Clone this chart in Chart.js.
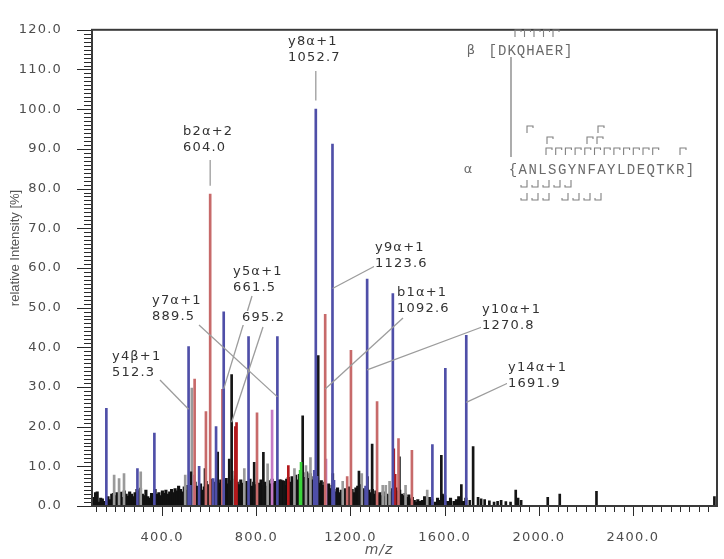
<!DOCTYPE html>
<html>
<head>
<meta charset="utf-8">
<script src="https://cdn.jsdelivr.net/npm/chart.js@4.4.1/dist/chart.umd.min.js"></script>
<style>
html, body { margin: 0; padding: 0; background: #fff; }
</style>
</head>
<body>
<canvas id="spec" width="724" height="559"></canvas>
<script>
// peaks: [m/z, relative intensity %]
const bluePeaks = [
  [163, 24.6], [295, 9.4], [367, 18.4], [512.3, 40.2], [520, 5.2], [557, 10.0], [617, 6.9], [629, 20.0],
  [661.5, 48.9], [767, 42.7], [889.5, 42.7], [1046, 9.0], [1052.7, 100.0], [1058, 7.5], [1123.6, 91.2],
  [1130, 6.5], [1264, 5.0], [1270.8, 57.2], [1380, 53.5], [1548, 15.5], [1603, 34.7], [1691.9, 43.0]
];
const redPeaks = [
  [538, 32.0], [586, 23.8], [604, 78.6], [656, 29.4], [803, 23.5], [1092.6, 48.3], [1186, 7.4],
  [1202, 39.2], [1313, 26.3], [1404, 17.0], [1461, 14.0]
];
const darkRedPeaks = [[711, 20.0], [716, 21.0], [936, 10.2], [1384, 14.4], [1390, 8.0]];
const magentaPeaks = [[536, 7.8], [867, 24.2], [1096, 11.8]];
const greenPeaks = [[986, 9.0], [990, 11.0]];
const grayPeaks = [
  [196, 7.8], [217, 6.9], [238, 8.2], [309, 8.6], [498, 7.8], [526, 29.7], [699, 8.8], [749, 9.4],
  [848, 10.6], [962, 9.4], [1011, 10.2], [1030, 12.2], [1167, 6.2], [1248, 8.2], [1337, 5.2],
  [1350, 5.2], [1366, 6.2], [1434, 5.2], [1526, 4.0], [1697, 1.4]
];
const blackPeaks = [
  [522, 8.6], [582, 9.4], [636, 13.6], [685, 11.8], [695.2, 33.1], [791, 11.0], [830, 13.5], [905, 6.6],
  [919, 6.2], [997, 22.7], [1063, 37.9], [1125, 8.2], [1236, 8.8], [1272, 7.4], [1292, 15.6], [1408, 12.4],
  [1586, 12.8], [1671, 5.4], [1721, 15.0], [1742, 2.2], [1755, 1.8], [1770, 1.6], [1790, 1.3], [1810, 1.0],
  [1825, 1.2], [1840, 1.4], [1860, 1.1], [1880, 1.0], [1902, 4.0], [1912, 2.0], [1925, 1.4], [2038, 2.2],
  [2089, 3.0], [2245, 3.7], [2746, 2.4]
];
// low-level background peaks
const noisePeaks = [
  [104, 1.2], [110, 2.2], [117, 3.4], [124, 3.6], [131, 1.0], [139, 2.0], [146, 1.8], [154, 1.2],
  [170, 2.4], [178, 1.6], [186, 3.0], [193, 3.2], [201, 2.6], [208, 3.4], [216, 2.8], [224, 3.5],
  [231, 2.2], [239, 3.8], [247, 3.0], [255, 2.5], [262, 3.6], [270, 3.0], [278, 2.4], [285, 3.4],
  [293, 4.2], [301, 3.8], [308, 4.5], [316, 3.0], [324, 2.6], [331, 4.0], [339, 2.4], [347, 2.0],
  [355, 3.2], [362, 2.8], [370, 4.2], [378, 3.0], [386, 3.4], [393, 2.6], [401, 3.8], [409, 3.2],
  [416, 4.0], [424, 3.0], [432, 3.6], [440, 4.2], [447, 3.4], [455, 4.4], [463, 3.8], [470, 5.0],
  [478, 4.2], [486, 3.6], [494, 4.8], [501, 4.0], [509, 5.2], [517, 4.4], [525, 5.4], [532, 4.6],
  [540, 6.0], [548, 5.0], [556, 4.4], [563, 5.6], [571, 4.0], [579, 4.8], [587, 6.2], [594, 5.4],
  [602, 4.6], [610, 6.8], [618, 5.2], [625, 6.0], [633, 7.4], [641, 5.8], [649, 6.6], [656, 5.0],
  [664, 6.2], [672, 7.0], [680, 5.6], [688, 6.4], [696, 5.2], [703, 6.8], [711, 7.6], [719, 6.0],
  [727, 5.4], [734, 6.6], [742, 5.8], [750, 4.8], [758, 6.2], [765, 5.6], [773, 6.8], [781, 5.0],
  [789, 6.0], [797, 5.4], [804, 4.6], [812, 5.8], [820, 6.6], [828, 5.2], [836, 6.0], [843, 5.0],
  [851, 6.4], [859, 5.6], [867, 6.8], [874, 5.8], [882, 6.2], [890, 5.4], [898, 6.6], [905, 5.8],
  [913, 6.4], [921, 5.2], [929, 6.8], [936, 7.2], [944, 6.0], [952, 7.4], [960, 6.4], [967, 7.8],
  [975, 6.6], [983, 8.0], [991, 7.0], [998, 8.4], [1006, 7.2], [1014, 8.6], [1022, 7.0], [1029, 8.2],
  [1037, 6.6], [1045, 7.4], [1053, 6.2], [1060, 7.0], [1068, 5.8], [1076, 6.4], [1083, 5.2], [1091, 6.0],
  [1099, 4.8], [1107, 5.6], [1114, 4.4], [1122, 5.2], [1130, 4.2], [1138, 3.6], [1145, 4.6], [1153, 3.4],
  [1161, 4.0], [1169, 3.2], [1176, 4.4], [1184, 3.6], [1192, 4.8], [1200, 3.8], [1207, 4.2], [1215, 3.4],
  [1223, 4.6], [1231, 5.0], [1238, 4.0], [1246, 5.4], [1254, 4.4], [1262, 3.8], [1269, 4.6], [1277, 4.0],
  [1285, 3.4], [1293, 4.2], [1300, 3.0], [1308, 3.8], [1316, 2.8], [1324, 3.4], [1331, 2.6], [1339, 3.6],
  [1347, 2.4], [1355, 3.0], [1362, 2.8], [1370, 3.6], [1378, 4.4], [1386, 5.2], [1393, 4.6], [1401, 3.8],
  [1409, 4.0], [1417, 3.0], [1424, 2.6], [1432, 3.2], [1440, 2.2], [1448, 2.8], [1455, 1.8], [1463, 2.2],
  [1471, 1.4], [1479, 1.0], [1486, 1.6], [1494, 1.2], [1505, 1.4], [1515, 2.4], [1525, 1.2], [1535, 2.2],
  [1545, 1.6], [1560, 1.0], [1570, 2.0], [1580, 1.4], [1590, 3.0], [1600, 2.6], [1612, 1.2], [1625, 2.0],
  [1640, 1.2], [1650, 1.6], [1660, 2.4], [1680, 1.2], [1690, 2.0], [1705, 1.4]
];

// annotated fragment ions
const labelText = [
  ['y8α+1', '1052.7'], ['b2α+2', '604.0'], ['y9α+1', '1123.6'], ['y5α+1', '661.5'], ['695.2'],
  ['y7α+1', '889.5'], ['y4β+1', '512.3'], ['b1α+1', '1092.6'], ['y10α+1', '1270.8'], ['y14α+1', '1691.9']
];
const labelMz = [1052.7, 604.0, 1123.6, 661.5, 695.2, 889.5, 512.3, 1092.6, 1270.8, 1691.9];

const xTicks = [400, 800, 1200, 1600, 2000, 2400];

// where the labels sit (px) and where their leader lines meet the peak (intensity)
const labelLayout = [
  { at: [288, 42], from: [null, 71], hit: 102.2 },
  { at: [183, 132], from: [null, 160], hit: 80.7 },
  { at: [375, 248], from: [375, 266], hit: 54.8 },
  { at: [233, 272], from: [252, 296], hit: 29.5 },
  { at: [242, 318], from: [263, 327], hit: 21.1 },
  { at: [152, 301], from: [199, 325], hit: 27.5 },
  { at: [112, 357], from: [160, 380], hit: 24.4 },
  { at: [397, 293], from: [403, 318], hit: 29.5 },
  { at: [482, 310], from: [482, 327], hit: 34.3 },
  { at: [508, 368], from: [508, 383], hit: 26.1 }
];

function pts(arr) {
  return arr.map(p => ({ x: p[0], y: p[1] }));
}

function bars(data, color, order, thick) {
  return {
    data: pts(data),
    backgroundColor: color,
    borderWidth: 0,
    barThickness: thick || 2,
    grouped: false,
    order: order
  };
}

const frameAndTicks = {
  id: 'frameAndTicks',
  beforeDraw(chart) {
    chart.ctx.letterSpacing = '1.2px';
  },
  afterDraw(chart) {
    const { ctx, chartArea: a, scales: { x, y } } = chart;
    ctx.save();
    ctx.letterSpacing = '0px';
    ctx.strokeStyle = '#2a2a2a';
    ctx.lineWidth = 1;
    ctx.beginPath();
    for (let v = 0; v <= 120; v++) {
      const py = Math.round(y.getPixelForValue(v)) + 0.5;
      const len = v % 10 === 0 ? 15 : 8;
      ctx.moveTo(a.left - len, py);
      ctx.lineTo(a.left, py);
    }
    for (let v = 120; v <= x.max; v += 40) {
      const px = Math.round(x.getPixelForValue(v)) + 0.5;
      const len = v % 400 === 0 ? 10 : 6;
      ctx.moveTo(px, a.bottom);
      ctx.lineTo(px, a.bottom + len);
    }
    ctx.stroke();

    ctx.lineWidth = 2;
    ctx.strokeStyle = '#3a3a3a';
    ctx.strokeRect(a.left, a.top, a.right - a.left, a.bottom - a.top);

    // axis titles
    ctx.fillStyle = '#555';
    ctx.textAlign = 'center';
    ctx.textBaseline = 'middle';
    ctx.font = 'italic 14px "DejaVu Sans"';
    ctx.letterSpacing = '1px';
    ctx.fillText('m/z', 379, 550);
    ctx.translate(15, 248);
    ctx.rotate(-Math.PI / 2);
    ctx.letterSpacing = '0px';
    ctx.font = '13px "Liberation Sans Narrow", "Liberation Sans"';
    ctx.fillText('relative Intensity [%]', 0, 0);
    ctx.restore();
  }
};

const peakLabels = {
  id: 'peakLabels',
  afterDatasetsDraw(chart) {
    const { ctx, scales: { x, y } } = chart;
    ctx.save();
    ctx.strokeStyle = '#9c9c9c';
    ctx.lineWidth = 1.3;
    labelLayout.forEach((l, i) => {
      const px = x.getPixelForValue(labelMz[i]);
      const py = y.getPixelForValue(l.hit);
      const sx = l.from[0] === null ? px : l.from[0];
      ctx.beginPath();
      ctx.moveTo(sx, l.from[1]);
      ctx.lineTo(px, py);
      ctx.stroke();
    });
    ctx.font = '13px "DejaVu Sans"';
    ctx.letterSpacing = '1.2px';
    ctx.textBaseline = 'middle';
    labelLayout.forEach((l, i) => {
      labelText[i].forEach((t, j) => {
        const ty = l.at[1] + j * 15.5;
        const w = ctx.measureText(t).width;
        ctx.fillStyle = '#fff';
        ctx.fillRect(l.at[0] - 1, ty - 7, w + 2, 14);
        ctx.fillStyle = '#333';
        ctx.fillText(t, l.at[0], ty);
      });
    });
    ctx.restore();
  }
};

// crosslinked peptide sketch in the upper right
const sequenceSketch = {
  id: 'sequenceSketch',
  afterDraw(chart) {
    const ctx = chart.ctx;
    ctx.save();
    ctx.letterSpacing = '0px';
    ctx.fillStyle = '#6a6a6a';
    ctx.strokeStyle = '#808080';
    ctx.textBaseline = 'middle';
    ctx.textAlign = 'center';
    ctx.font = '13px "DejaVu Sans"';
    ctx.fillText('β', 471, 51);
    ctx.fillText('α', 468, 170);
    ctx.font = '14px "Liberation Mono"';
    const beta = '[DKQHAER]';
    for (let i = 0; i < beta.length; i++) ctx.fillText(beta[i], 488 + 9.45 * (i + 0.5), 51);
    const alpha = '{ANLSGYNFAYLDEQTKR]';
    for (let i = 0; i < alpha.length; i++) ctx.fillText(alpha[i], 508 + 9.84 * (i + 0.5), 170);

    ctx.lineWidth = 1.3;
    ctx.beginPath();
    ctx.moveTo(511, 57);
    ctx.lineTo(511, 157);
    ctx.stroke();

    ctx.lineWidth = 1.1;
    function topMark(mx, my) {
      ctx.moveTo(mx, my + 7);
      ctx.lineTo(mx, my);
      ctx.lineTo(mx + 6, my);
      ctx.lineTo(mx + 6, my + 2);
    }
    function lowMark(mx, my) {
      ctx.moveTo(mx + 6, my);
      ctx.lineTo(mx + 6, my + 7);
      ctx.lineTo(mx, my + 7);
      ctx.lineTo(mx, my + 5);
    }
    ctx.beginPath();
    [515, 524.5, 534, 543.5, 553].forEach(m => topMark(m, 30));
    [527, 598].forEach(m => topMark(m, 126));
    [547, 587, 597].forEach(m => topMark(m, 137));
    [546, 555.7, 565.4, 575.1, 584.8, 594.5, 604.2, 613.9, 623.6, 633.3, 643, 652.7, 680].forEach(m => topMark(m, 148));
    [521, 532, 543, 554, 565].forEach(m => lowMark(m, 180));
    [521, 532, 543, 562, 573, 584, 595].forEach(m => lowMark(m, 193));
    ctx.stroke();
    ctx.restore();
  }
};

new Chart(document.getElementById('spec'), {
  type: 'bar',
  data: {
    datasets: [
      bars(noisePeaks, '#111', 9, 2.5),
      bars(grayPeaks, '#9a9a9a', 8),
      bars(blackPeaks, '#151515', 7),
      bars(greenPeaks, '#3ad43a', 6),
      bars(magentaPeaks, '#c57ac5', 5),
      bars(darkRedPeaks, '#b3191c', 4),
      bars(redPeaks, '#c76a6a', 3),
      bars(bluePeaks, '#4f4fa8', 2)
    ]
  },
  options: {
    responsive: false,
    animation: false,
    layout: { padding: { top: 5, right: 7, left: 0, bottom: 0 } },
    plugins: { legend: { display: false }, tooltip: { enabled: false } },
    scales: {
      x: {
        type: 'linear',
        min: 102,
        max: 2757,
        offset: false,
        grid: { display: false },
        border: { display: false },
        afterBuildTicks: s => { s.ticks = xTicks.map(v => ({ value: v })); },
        afterFit: s => { s.height = 53; },
        ticks: {
          autoSkip: false,
          maxRotation: 0,
          padding: 16,
          color: '#4d4d4d',
          font: { family: 'DejaVu Sans', size: 13 },
          callback: v => v.toFixed(1)
        }
      },
      y: {
        min: 0,
        max: 120,
        grid: { display: false },
        border: { display: false },
        afterFit: s => { s.width = 92; },
        ticks: {
          stepSize: 10,
          padding: 22,
          color: '#4d4d4d',
          font: { family: 'DejaVu Sans', size: 13 },
          callback: v => v.toFixed(1)
        }
      }
    }
  },
  plugins: [frameAndTicks, peakLabels, sequenceSketch]
});
</script>
</body>
</html>
